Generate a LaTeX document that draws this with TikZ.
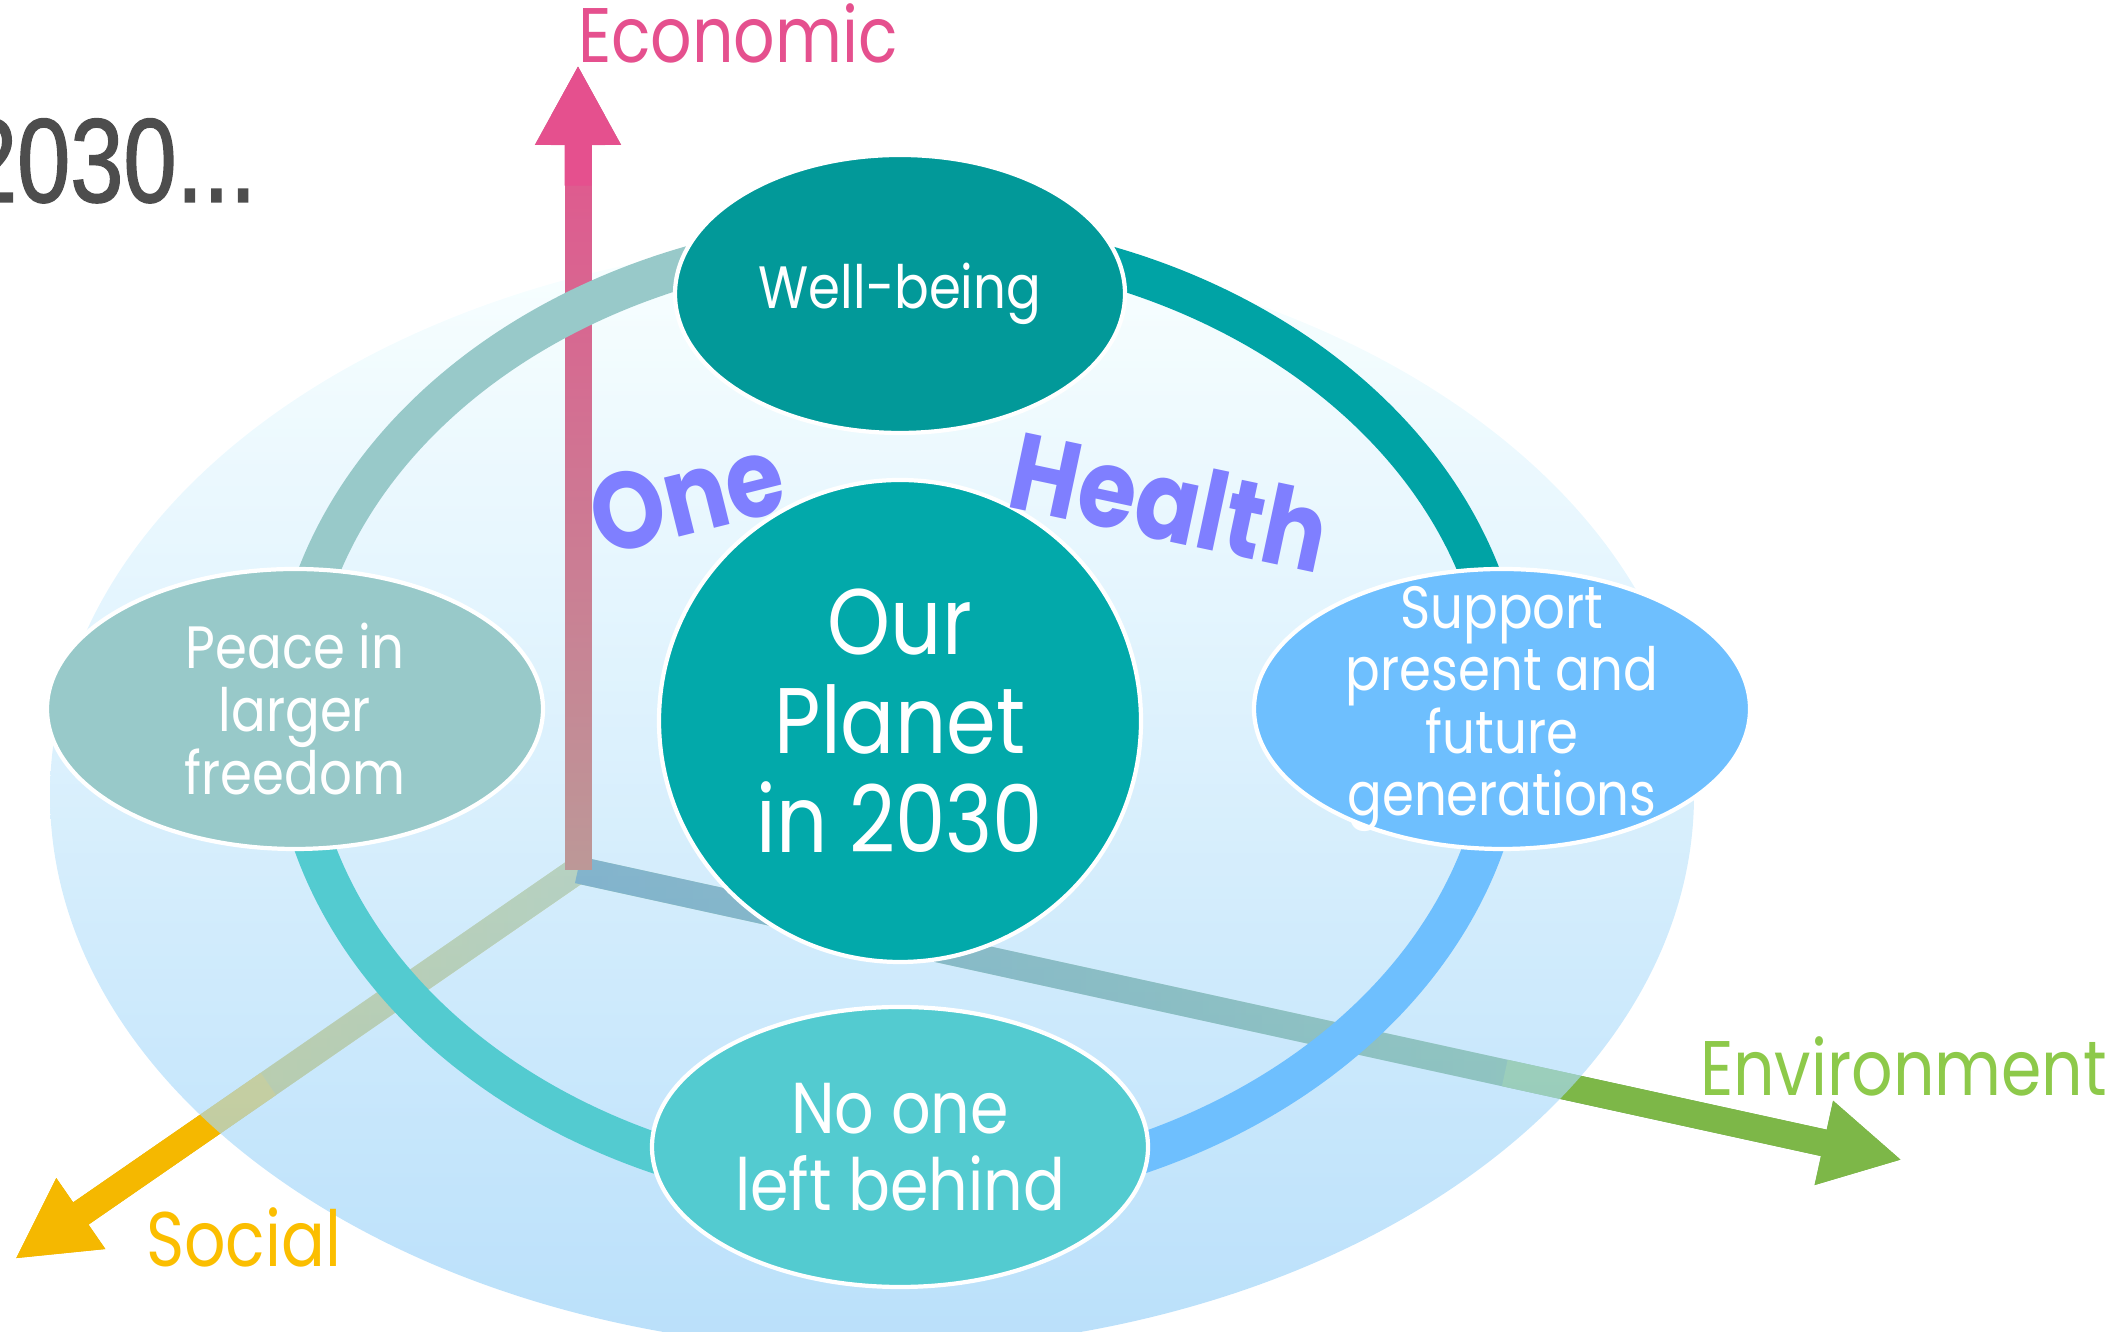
\documentclass[tikz,border=0pt]{standalone}
\usepackage{fontspec}
\usepackage{tikz}
\usetikzlibrary{shapes,arrows.meta,fadings,calc}
\newfontfamily\gothic{Poppins}[FakeStretch=0.86]
\newfontfamily\labelfont{Poppins}[FakeStretch=0.84]
\newfontfamily\heavy{Poppins}[FakeStretch=0.865]
\newfontfamily\condensed{Liberation Sans}[FakeStretch=0.8, FakeBold=1.2]

\definecolor{wellteal}{RGB}{2,153,153}
\definecolor{planetteal}{RGB}{2,169,170}
\definecolor{peacegray}{RGB}{152,201,201}
\definecolor{supportblue}{RGB}{110,191,254}
\definecolor{noonecyan}{RGB}{83,203,208}
\definecolor{ringteal}{RGB}{0,163,165}
\definecolor{healthviolet}{RGB}{127,127,255}
\definecolor{econpink}{RGB}{229,80,142}
\definecolor{econmauve}{RGB}{188,154,152}
\definecolor{socialgold}{RGB}{245,184,0}
\definecolor{socialolive}{RGB}{165,175,90}
\definecolor{envgreen}{RGB}{125,183,72}
\definecolor{envsteel}{RGB}{20,90,120}
\definecolor{envtext}{RGB}{141,201,74}
\definecolor{socialtext}{RGB}{251,190,0}
\definecolor{titlegray}{RGB}{77,77,77}
\definecolor{bgtop}{RGB}{245,255,255}
\definecolor{bgmid}{RGB}{203,241,253}
\definecolor{bgbottom}{RGB}{148,207,248}

\begin{document}
\begin{tikzpicture}

\tikzstyle{every node} = [inner sep=0pt, outer sep=0pt, text=white]
\tikzstyle{goal} = [ellipse, draw=white, line width=1.2pt, minimum width=4.96cm, minimum height=2.8cm, align=center, font=\gothic\fontsize{17pt}{17.8pt}\selectfont]
\tikzstyle{ring} = [line width=0.4cm]
\tikzstyle{axis} = [line width=0.27cm, -{Triangle[length=0.8cm, width=0.8cm]}]
\tikzstyle{axislabel} = [anchor=base west, font=\labelfont\fontsize{22pt}{22pt}\selectfont]
\tikzstyle{motto} = [text=healthviolet, font=\heavy\bfseries\fontsize{31pt}{31pt}\selectfont]

\useasboundingbox (0,0) rectangle (21.23,13.32);

\coordinate (o) at (5.78,4.62);
\coordinate (econ) at (5.78,12.67);
\coordinate (soc) at (0.15,0.73);
\coordinate (env) at (19.02,1.72);
\coordinate (ringc) at (8.99,6.17);

\draw[axis, socialgold] (o) -- (soc);
\draw[axis, socialolive, path fading=west] (o) -- (soc);
\draw[axis, socialgold] ($(o)!0.55!(soc)$) -- (soc);
\draw[axis, envgreen] (o) -- (env);
\draw[axis, envsteel, path fading=east] (o) -- (env);
\draw[axis, envgreen] ($(o)!0.7!(env)$) -- (env);

\shade[top color=bgtop, middle color=bgmid, bottom color=bgbottom, opacity=0.65] (8.72,5.37) ellipse [x radius=8.22, y radius=5.55];

\draw[axis, econmauve] (o) -- (econ);
\draw[axis, econpink, path fading=south] (o) -- (econ);
\draw[axis, econpink] ($(o)!0.85!(econ)$) -- (econ);

\draw[ring, peacegray] (ringc) ++(90:6.08cm and 4.78cm) arc[start angle=90, end angle=180, x radius=6.08, y radius=4.78];
\draw[ring, noonecyan] (ringc) ++(180:6.08cm and 4.78cm) arc[start angle=180, end angle=270, x radius=6.08, y radius=4.78];
\draw[ring, supportblue] (ringc) ++(270:6.08cm and 4.78cm) arc[start angle=270, end angle=360, x radius=6.08, y radius=4.78];
\draw[ring, ringteal] (ringc) ++(0:6.08cm and 4.78cm) arc[start angle=0, end angle=90, x radius=6.08, y radius=4.78];

\node[goal, fill=wellteal, minimum width=4.5cm, minimum height=2.78cm, font=\gothic\fontsize{17pt}{17pt}\selectfont] (well) at (9.00,10.38) {Well-being};
\node[goal, fill=peacegray] (peace) at (2.95,6.23) {Peace in\\larger\\freedom};
\node[goal, fill=supportblue, inner ysep=-0.3cm] (support) at (15.02,6.23) {Support\\present and\\future\\generations};
\node[goal, fill=noonecyan, font=\gothic\fontsize{20.5pt}{21.8pt}\selectfont] (noone) at (9.00,1.85) {No one\\left behind};
\node[circle, draw=white, line width=1.2pt, fill=planetteal, minimum size=4.82cm, align=center, font=\gothic\fontsize{26.5pt}{28.2pt}\selectfont] (planet) at (9.00,6.11) {Our\\Planet\\in 2030};

\node[axislabel, text=econpink] (econlabel) at (5.78,12.69) {Economic};
\node[axislabel, text=socialtext] (sociallabel) at (1.46,0.65) {Social};
\node[axislabel, text=envtext] (envlabel) at (17.0,2.36) {Environment};
\node[anchor=base west, text=titlegray, font=\condensed\fontsize{34pt}{34pt}\selectfont] (title) at (-0.36,11.30) {2030...};

\node[motto, rotate=14] (one) at (6.87,8.36) {One};
\node[motto, rotate=-12] (health) at (11.70,8.31) {Health};
\end{tikzpicture}
\end{document}
